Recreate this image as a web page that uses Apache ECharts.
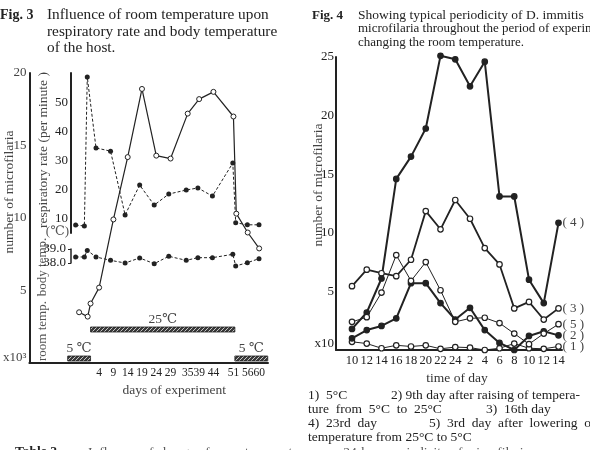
<!DOCTYPE html>
<html>
<head>
<meta charset="utf-8">
<script src="https://cdn.jsdelivr.net/npm/echarts@6/dist/echarts.min.js"></script>
<style>
  html, body { margin: 0; padding: 0; background: #fff; }
  #chart { width: 590px; height: 450px; }
</style>
</head>
<body>
<div id="chart"></div>
<script>
// ---- Fig. 3 : room temperature vs respiratory rate / body temperature ----
const days = [-3, 0, 1, 4, 9, 14, 19, 24, 29, 35, 39, 44, 51, 52, 56, 60];
const dayTicks = [4, 9, 14, 19, 24, 29, 35, 39, 44, 51, 56, 60];
const microfilaria = [3.5, 3.2, 4.1, 5.2, 9.9, 14.2, 18.9, 14.3, 14.1, 17.2, 18.2, 18.7, 17.0, 10.3, 9.0, 7.9];
const respRate = [7.9, 7.6, 59, 34.5, 33.4, 11.4, 21.7, 14.8, 18.6, 20, 20.7, 17.9, 29.3, 8.7, 8.0, 8.0];
const bodyTemp = [38.43, 38.43, 38.9, 38.43, 38.19, 38.0, 38.36, 37.95, 38.48, 38.19, 38.38, 38.38, 38.62, 37.79, 38.02, 38.31];
const respTicks = [10, 20, 30, 40, 50];
const roomFrom = [-7, 1, 51.5];
const roomTo = [1, 51.5, 63];
const roomTemp = [5, 25, 5];

// ---- Fig. 4 : 24 h periodicity ----
const hours = ['10', '12', '14', '16', '18', '20', '22', '24', '2', '4', '6', '8', '10', '12', '14'];
const curve1 = [0.7, 0.55, 0.15, 0.4, 0.3, 0.4, 0.1, 0.25, 0.2, 0.0, 0.15, 0.55, 0.15, 0.1, 0.3];
const curve2 = [1.0, 1.7, 2.05, 2.7, 5.7, 5.7, 4.0, 2.6, 3.6, 1.7, 0.6, 0.0, 1.2, 1.6, 1.25];
const curve3 = [5.45, 6.85, 6.55, 6.3, 7.7, 11.85, 10.3, 12.8, 11.2, 8.7, 7.3, 3.55, 4.1, 2.6, 3.55];
const curve4 = [1.8, 3.2, 6.1, 14.6, 16.5, 18.9, 25.1, 24.8, 22.5, 24.6, 13.1, 13.1, 6.0, 4.0, 10.85];
const curve5 = [2.4, 2.8, 4.9, 8.1, 5.9, 7.5, 5.1, 2.4, 2.7, 2.75, 2.3, 1.4, 0.5, 1.4, 2.2];

const FONT = '"Liberation Serif", "DejaVu Serif", serif';
const INK = '#222';

// axis range whose value v0 sits at pixel p0 and v1 at p1, measured over pixels a..b
function span(v0, p0, v1, p1, a, b) {
  const k = (v1 - v0) / (p1 - p0);
  return [v0 + (a - p0) * k, v0 + (b - p0) * k];
}

const dayMain = span(4, 96, 60, 259, 25, 268);
const dayInner = span(4, 96, 60, 259, 71, 268);
const respRange = span(10, 219, 50, 103, 233, 73);
const roomRange = span(5, 358.5, 25, 329.5, 363, 73);
const hourRange = span(0, 352, 14, 558.5, 336, 562);

// hatched fill for the room temperature bars
const hatch = (() => {
  const c = document.createElement('canvas');
  c.width = 4; c.height = 4;
  const g = c.getContext('2d');
  g.fillStyle = '#3a3a3a'; g.fillRect(0, 0, 4, 4);
  g.strokeStyle = '#c8c8c8'; g.lineWidth = 1;
  g.beginPath(); g.moveTo(0, 4); g.lineTo(4, 0); g.stroke();
  return {image: c, repeat: 'repeat'};
})();

const txt = (x, y, text, opt = {}) => ({
  type: 'text', x, y, rotation: opt.rot || 0, silent: true,
  style: {
    text, fill: opt.color || INK, align: opt.align || 'left', verticalAlign: 'middle',
    font: `${opt.weight || 'normal'} ${opt.size || 13.5}px ${FONT}`
  }
});

const hiddenX = (grid, range) => ({
  type: 'value', gridIndex: grid, min: range[0], max: range[1], show: false
});

const chart = echarts.init(document.getElementById('chart'));

const pts = (xs, ys) => xs.map((x, i) => [x, ys[i]]);
const hourPts = ys => ys.map((v, i) => [i, v]);

const rightLine = (name, data, opt) => ({
  name, type: 'line', xAxisIndex: 3, yAxisIndex: 4, data: hourPts(data),
  symbol: 'circle', symbolSize: 5.5, clip: false,
  lineStyle: {color: INK, width: opt.width},
  itemStyle: {color: opt.filled ? INK : '#fff', borderColor: INK, borderWidth: 1.2},
  endLabel: {show: true, formatter: name, color: '#444', fontFamily: FONT, fontSize: 13, distance: 4}
});

const axisLine = w => ({show: true, onZero: false, lineStyle: {color: INK, width: w}});

const option = {
  animation: false,
  backgroundColor: '#fff',
  grid: [
    {left: 25, top: 73, width: 243, height: 290},
    {left: 71, top: 73, width: 197, height: 160},
    {left: 71, top: 249, width: 197, height: 14},
    {left: 336, top: 57, width: 226, height: 293}
  ],
  xAxis: [
    {
      type: 'value', gridIndex: 0, min: dayMain[0], max: dayMain[1],
      axisLine: axisLine(2),
      axisTick: {show: false},
      splitLine: {show: false},
      axisLabel: {
        customValues: dayTicks, hideOverlap: false,
        color: INK, fontFamily: FONT, fontSize: 11.5, margin: 4
      },
      name: 'days of experiment', nameLocation: 'middle', nameGap: 13,
      nameTextStyle: {color: '#444', fontFamily: FONT, fontSize: 13.5, padding: [0, 0, 0, 51]}
    },
    hiddenX(1, dayInner),
    hiddenX(2, dayInner),
    {
      type: 'value', gridIndex: 3, min: hourRange[0], max: hourRange[1],
      axisLine: axisLine(2),
      axisTick: {show: false},
      splitLine: {show: false},
      axisLabel: {
        customValues: hours.map((h, i) => i), formatter: v => hours[v], hideOverlap: false,
        color: INK, fontFamily: FONT, fontSize: 12.5, margin: 4
      },
      name: 'time of day', nameLocation: 'middle', nameGap: 20,
      nameTextStyle: {color: '#333', fontFamily: FONT, fontSize: 13.5, padding: [0, 0, 0, 16]}
    }
  ],
  yAxis: [
    {
      type: 'value', gridIndex: 0, min: 0, max: 20, interval: 5,
      axisLine: axisLine(2),
      axisTick: {show: false}, splitLine: {show: false},
      axisLabel: {
        color: '#444', fontFamily: FONT, fontSize: 13, margin: 3,
        formatter: v => v === 0 ? '{up|x10³}' : String(v),
        rich: {up: {fontFamily: FONT, fontSize: 13, color: '#444', padding: [0, 0, 10, 0]}}
      }
    },
    {type: 'value', gridIndex: 0, min: roomRange[0], max: roomRange[1], show: false},
    {
      type: 'value', gridIndex: 1, min: respRange[0], max: respRange[1],
      axisLine: axisLine(2),
      axisTick: {show: false}, splitLine: {show: false},
      axisLabel: {customValues: respTicks, color: INK, fontFamily: FONT, fontSize: 13, margin: 3}
    },
    {
      type: 'value', gridIndex: 2, min: 38, max: 39, interval: 1,
      axisLine: axisLine(1.5),
      axisTick: {show: true, length: 3, lineStyle: {color: INK}}, splitLine: {show: false},
      axisLabel: {formatter: v => v.toFixed(1), color: INK, fontFamily: FONT, fontSize: 13, margin: 5}
    },
    {
      type: 'value', gridIndex: 3, min: 0, max: 25, interval: 5,
      axisLine: axisLine(2),
      axisTick: {show: false}, splitLine: {show: false},
      axisLabel: {
        color: INK, fontFamily: FONT, fontSize: 13, margin: 2,
        formatter: v => v === 0 ? '{up|x10}' : String(v),
        rich: {up: {fontFamily: FONT, fontSize: 13, color: INK, padding: [0, 0, 12, 0]}}
      }
    }
  ],
  series: [
    {
      name: 'microfilaria', type: 'line', xAxisIndex: 0, yAxisIndex: 0,
      data: pts(days, microfilaria), symbol: 'circle', symbolSize: 5, clip: false,
      lineStyle: {color: INK, width: 1.2},
      itemStyle: {color: '#fff', borderColor: INK, borderWidth: 1}
    },
    {
      name: 'respiratory rate', type: 'line', xAxisIndex: 1, yAxisIndex: 2,
      data: pts(days, respRate), symbol: 'circle', symbolSize: 5, clip: false,
      lineStyle: {color: INK, width: 1, type: [3, 2]},
      itemStyle: {color: INK}
    },
    {
      name: 'body temperature', type: 'line', xAxisIndex: 2, yAxisIndex: 3,
      data: pts(days, bodyTemp), symbol: 'circle', symbolSize: 5, clip: false,
      lineStyle: {color: INK, width: 1, type: [3, 2]},
      itemStyle: {color: INK}
    },
    {
      name: 'room temperature', type: 'custom', xAxisIndex: 0, yAxisIndex: 1,
      data: roomFrom.map((f, i) => [f, roomTo[i], roomTemp[i]]),
      encode: {x: [0, 1], y: 2},
      clip: false,
      renderItem: (params, api) => {
        const a = api.coord([api.value(0), api.value(2)]);
        const b = api.coord([api.value(1), api.value(2)]);
        const t = api.value(2);
        return {
          type: 'group',
          children: [
            {
              type: 'rect',
              shape: {x: a[0], y: a[1] - 2.5, width: b[0] - a[0], height: 5},
              style: {fill: hatch, stroke: '#222', lineWidth: 0.8}
            },
            {
              type: 'text', x: (a[0] + b[0]) / 2, y: a[1] - 10,
              style: {
                text: t < 10 ? t + ' ℃' : t + '℃', align: 'center', verticalAlign: 'middle',
                fill: '#444', font: `13.5px ${FONT}`
              }
            }
          ]
        };
      }
    },
    rightLine('( 1 )', curve1, {width: 1, filled: false}),
    rightLine('( 2 )', curve2, {width: 2, filled: true}),
    rightLine('( 3 )', curve3, {width: 1.8, filled: false}),
    rightLine('( 4 )', curve4, {width: 2, filled: true}),
    rightLine('( 5 )', curve5, {width: 1, filled: false})
  ],
  graphic: [
    // Fig. 3 heading
    txt(0, 15, 'Fig. 3', {weight: 'bold', size: 14}),
    txt(47, 15, 'Influence of room temperature upon', {size: 15.3}),
    txt(47, 32, 'respiratory rate and body temperature', {size: 15.3}),
    txt(47, 48, 'of the host.', {size: 15.3}),
    // Fig. 3 side titles
    txt(9, 192, 'number of microfilaria', {rot: Math.PI / 2, align: 'center', color: '#444'}),
    txt(43, 150, 'respiratory rate (per minute )', {rot: Math.PI / 2, align: 'center', color: '#444', size: 13.5}),
    txt(43, 267, 'body temp.', {rot: Math.PI / 2, align: 'center', color: '#555', size: 13}),
    txt(43, 331, 'room temp.', {rot: Math.PI / 2, align: 'center', color: '#555', size: 13}),
    txt(69, 232, '(℃)', {align: 'right', color: '#555', size: 13}),
    // Fig. 4 heading
    txt(312, 16, 'Fig. 4', {weight: 'bold', size: 13}),
    txt(358, 15, 'Showing typical periodicity of D. immitis', {size: 13.5}),
    txt(358, 29, 'microfilaria throughout the period of experiment', {size: 13}),
    txt(358, 43, 'changing the room temperature.', {size: 13}),
    txt(318, 185, 'number of microfilaria', {rot: Math.PI / 2, align: 'center', color: '#444'}),
    // Fig. 4 key
    txt(308, 395, '1)  5°C'),
    txt(391, 395, '2) 9th day after raising of tempera-'),
    txt(308, 409, 'ture  from  5°C  to  25°C'),
    txt(486, 409, '3)  16th day'),
    txt(308, 423, '4)  23rd  day'),
    txt(429, 423, '5)  3rd  day  after  lowering  of'),
    txt(308, 437, 'temperature from 25°C to 5°C'),
    // table caption cut by the page edge
    txt(15, 452, 'Table 2', {weight: 'bold'}),
    txt(88, 452, 'Influence of change of room temperature upon 24-hour periodicity of microfilaria', {color: '#555'})
  ]
};

chart.setOption(option);
</script>
</body>
</html>
